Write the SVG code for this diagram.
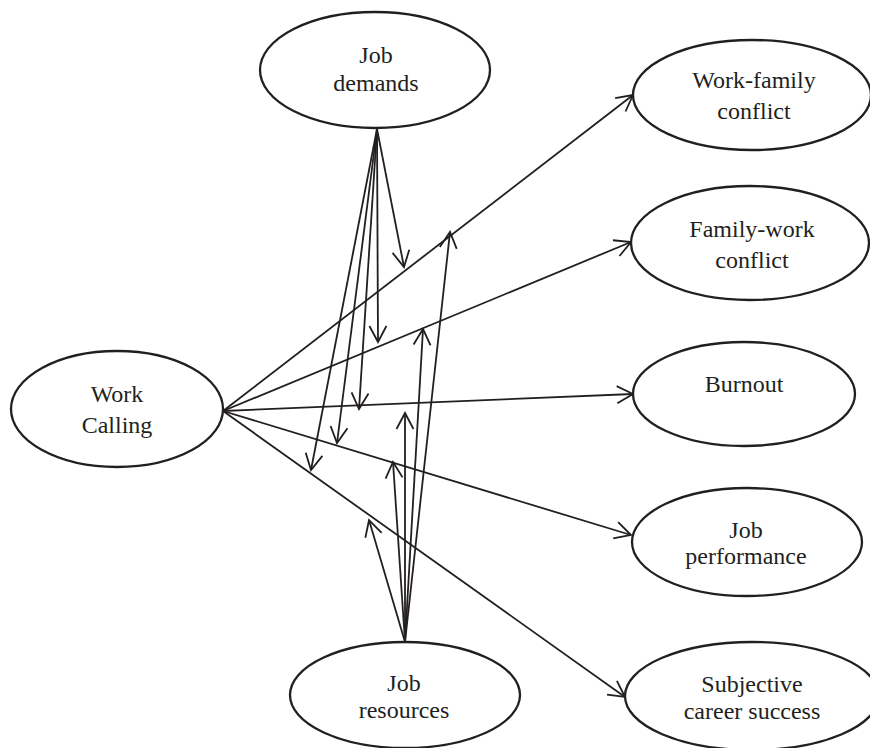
<svg xmlns="http://www.w3.org/2000/svg" width="870" height="748" viewBox="0 0 870 748">
<style>
.n{fill:#fff;stroke:#231f20;stroke-width:2.3}
.t{font-family:"Liberation Serif","Times New Roman",serif;font-size:24px;fill:#231f20;text-anchor:middle}
.c{stroke:#231f20;stroke-width:1.8;fill:none;marker-end:url(#ah)}
</style>
<defs>
<marker id="ah" markerUnits="userSpaceOnUse" markerWidth="40" markerHeight="40" viewBox="-20 -20 40 40" refX="0" refY="0" orient="auto" overflow="visible">
<path d="M-16,-8.5 L0,0 L-16,8.5" fill="none" stroke="#231f20" stroke-width="1.8"/>
</marker>
</defs>
<rect width="870" height="748" fill="#fff"/>
<g id="connectors">
<line class="c" x1="223" y1="411" x2="633" y2="95"/>
<line class="c" x1="223" y1="411" x2="631" y2="242"/>
<line class="c" x1="223" y1="411" x2="633" y2="394"/>
<line class="c" x1="223" y1="411" x2="631" y2="535"/>
<line class="c" x1="223" y1="411" x2="625" y2="697"/>
<line class="c" x1="377" y1="129" x2="404" y2="267"/>
<line class="c" x1="377" y1="129" x2="378" y2="342"/>
<line class="c" x1="377" y1="129" x2="359" y2="409"/>
<line class="c" x1="377" y1="129" x2="337" y2="443"/>
<line class="c" x1="377" y1="129" x2="311" y2="470"/>
<line class="c" x1="405" y1="642" x2="450" y2="232"/>
<line class="c" x1="405" y1="642" x2="423" y2="329"/>
<line class="c" x1="405" y1="642" x2="405" y2="413"/>
<line class="c" x1="405" y1="642" x2="393" y2="462"/>
<line class="c" x1="405" y1="642" x2="369" y2="520"/>
</g>
<g id="job-demands">
<ellipse class="n" cx="375" cy="70" rx="115" ry="58"/>
<text class="t" x="376" y="63">Job</text>
<text class="t" x="376" y="91">demands</text>
</g>
<g id="work-calling">
<ellipse class="n" cx="117" cy="409" rx="106" ry="58"/>
<text class="t" x="117" y="402">Work</text>
<text class="t" x="117" y="433">Calling</text>
</g>
<g id="work-family-conflict">
<ellipse class="n" cx="752" cy="95" rx="119" ry="55"/>
<text class="t" x="754" y="88">Work-family</text>
<text class="t" x="754" y="119">conflict</text>
</g>
<g id="family-work-conflict">
<ellipse class="n" cx="750" cy="243" rx="119" ry="57"/>
<text class="t" x="752" y="237">Family-work</text>
<text class="t" x="752" y="268">conflict</text>
</g>
<g id="burnout">
<ellipse class="n" cx="744" cy="394" rx="111" ry="52"/>
<text class="t" x="744" y="392">Burnout</text>
</g>
<g id="job-performance">
<ellipse class="n" cx="747" cy="542" rx="115" ry="54"/>
<text class="t" x="746" y="538">Job</text>
<text class="t" x="746" y="564">performance</text>
</g>
<g id="subjective-career-success">
<ellipse class="n" cx="752" cy="696" rx="127" ry="54"/>
<text class="t" x="752" y="692">Subjective</text>
<text class="t" x="752" y="719">career success</text>
</g>
<g id="job-resources">
<ellipse class="n" cx="405" cy="695" rx="115" ry="53"/>
<text class="t" x="404" y="691">Job</text>
<text class="t" x="404" y="718">resources</text>
</g>
</svg>
